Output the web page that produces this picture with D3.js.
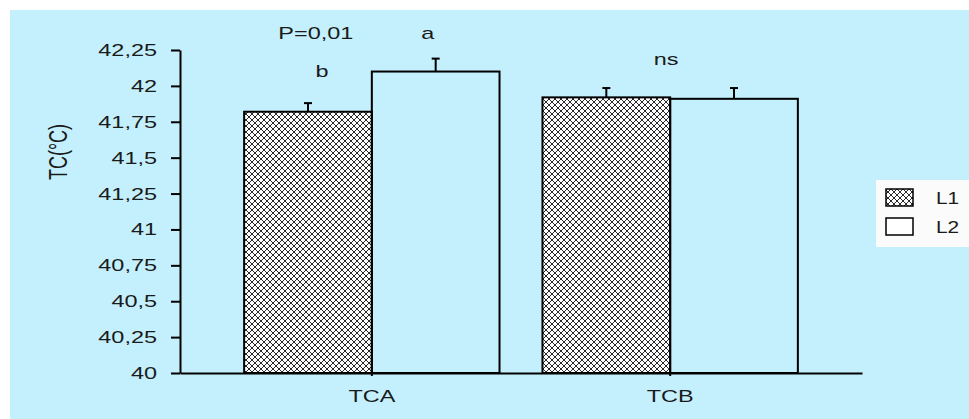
<!doctype html>
<html>

<head>
    <meta charset="utf-8">
    <title>TC chart</title>
    <style>
        body { margin: 0; background: #ffffff; }
        text { font-family: Arial, "Liberation Sans", sans-serif; fill: #1a1a1a; }
    </style>
</head>

<body>
    <script src="https://d3js.org/d3.v7.min.js"></script>
    <script>
        // data
        var categories = ["TCA", "TCB"];
        var seriesNames = ["L1", "L2"];
        var valuesL1 = [41.82, 41.92];
        var valuesL2 = [42.10, 41.91];
        var errorsL1 = [0.06, 0.065];
        var errorsL2 = [0.09, 0.075];
        var yTicks = [40, 40.25, 40.5, 40.75, 41, 41.25, 41.5, 41.75, 42, 42.25];
        var yTickLabels = ["40", "40,25", "40,5", "40,75", "41", "41,25", "41,5", "41,75", "42", "42,25"];
        // significance letters: [category, series, text]
        var letters = [["TCA", "L1", "b"], ["TCA", "L2", "a"]];
        var groupNotes = [["TCA", "P=0,01"], ["TCB", "ns"]];

        //Width and height
        var w = 969;
        var h = 419;
        var sx = 1.38; // the original is stretched sideways

        var svg = d3.select("body")
            .append("svg")
            .attr("width", w)
            .attr("height", h);

        // hatch pattern for L1
        var defs = svg.append("defs");
        var ps = 6;
        var pat = defs.append("pattern")
            .attr("id", "hatch")
            .attr("patternUnits", "userSpaceOnUse")
            .attr("width", ps)
            .attr("height", ps);
        pat.append("rect").attr("width", ps).attr("height", ps).attr("fill", "#ffffff");
        pat.append("path")
            .attr("d", "M0,0 L" + ps + "," + ps + " M" + ps + ",0 L0," + ps)
            .attr("stroke", "#111")
            .attr("stroke-width", 0.9);

        // background
        svg.append("rect")
            .attr("x", 10).attr("y", 10)
            .attr("width", w - 10).attr("height", h - 10)
            .attr("fill", "#c3f0fc");

        //scales
        var x0 = d3.scaleBand()
            .domain(categories)
            .range([180, 862])
            .paddingInner(0.144)
            .paddingOuter(0.215);

        var x1 = d3.scaleBand()
            .domain(seriesNames)
            .range([0, x0.bandwidth()]);

        var y = d3.scaleLinear()
            .domain([40, 42.25])
            .range([373, 50]);

        var fills = { L1: "url(#hatch)", L2: "none" };

        // bars
        var rows = [];
        categories.forEach(function (c, i) {
            rows.push({ cat: c, ser: "L1", v: valuesL1[i], e: errorsL1[i] });
            rows.push({ cat: c, ser: "L2", v: valuesL2[i], e: errorsL2[i] });
        });

        var bars = svg.append("g");
        bars.selectAll("rect")
            .data(rows)
            .enter()
            .append("rect")
            .attr("x", function (d) { return x0(d.cat) + x1(d.ser); })
            .attr("y", function (d) { return y(d.v); })
            .attr("width", x1.bandwidth())
            .attr("height", function (d) { return y(40) - y(d.v); })
            .attr("fill", function (d) { return fills[d.ser]; })
            .attr("stroke", "#000")
            .attr("stroke-width", 2);

        // error bars (upper only)
        var err = svg.append("g").attr("stroke", "#000").attr("stroke-width", 2);
        rows.forEach(function (d) {
            var cx = x0(d.cat) + x1(d.ser) + x1.bandwidth() / 2;
            err.append("line")
                .attr("x1", cx).attr("x2", cx)
                .attr("y1", y(d.v)).attr("y2", y(d.v + d.e));
            err.append("line")
                .attr("x1", cx - 4).attr("x2", cx + 4)
                .attr("y1", y(d.v + d.e)).attr("y2", y(d.v + d.e));
        });

        // y axis
        var yAxis = svg.append("g")
            .attr("transform", "translate(180,0)")
            .call(d3.axisLeft(y)
                .tickValues(yTicks)
                .tickFormat(function (d, i) { return yTickLabels[i]; })
                .tickSize(9)
                .tickSizeOuter(0));
        yAxis.select(".domain").attr("stroke-width", 2);
        yAxis.selectAll(".tick line").attr("stroke-width", 2);
        yAxis.selectAll(".tick text")
            .attr("x", -23 / sx)
            .attr("transform", "scale(" + sx + ",1)")
            .style("font-size", "17px")
            .style("font-family", "Arial, 'Liberation Sans', sans-serif")
            .attr("fill", "#1a1a1a");

        // x axis
        var xAxis = svg.append("g")
            .attr("transform", "translate(0,373)")
            .call(d3.axisBottom(x0).tickSize(3).tickSizeOuter(0));
        xAxis.select(".domain").attr("stroke-width", 2);
        xAxis.selectAll(".tick line").attr("stroke-width", 2);
        xAxis.selectAll(".tick text")
            .attr("y", 17)
            .attr("transform", "scale(" + sx + ",1)")
            .each(function () {
                var t = d3.select(this.parentNode).attr("transform");
                var tx = +t.match(/translate\(([-\d.]+)/)[1];
                d3.select(this.parentNode).attr("transform", "translate(" + tx + ",0)");
            })
            .style("font-size", "17px")
            .style("font-family", "Arial, 'Liberation Sans', sans-serif")
            .attr("fill", "#1a1a1a");

        // helper for stretched text
        function stretchedText(px, py, txt, size) {
            svg.append("text")
                .attr("transform", "translate(" + px + "," + py + ") scale(" + sx + ",1)")
                .attr("text-anchor", "middle")
                .style("font-size", size + "px")
                .text(txt);
        }

        // y label
        svg.append("text")
            .attr("transform", "translate(67,152) rotate(-90) scale(1," + sx + ")")
            .attr("text-anchor", "middle")
            .style("font-size", "18px")
            .text("TC(\u00B0C)");

        // annotations
        letters.forEach(function (l) {
            var cx = x0(l[0]) + x1(l[1]) + x1.bandwidth() / 2;
            var py = l[2] === "a" ? 39 : 77;
            stretchedText(l[1] === "L2" ? cx - 8 : cx + 14, py, l[2], 17);
        });
        groupNotes.forEach(function (n) {
            var cx = x0(n[0]) + x0.bandwidth() / 2;
            if (n[1] === "ns") stretchedText(cx - 4, 65, n[1], 17);
            else stretchedText(cx - 56, 39, n[1], 17);
        });

        // legend
        var legend = svg.append("g");
        legend.append("rect")
            .attr("x", 876).attr("y", 180)
            .attr("width", 93).attr("height", 67)
            .attr("fill", "#fbfbfb");
        seriesNames.forEach(function (s, i) {
            var ly = 189 + i * 29;
            legend.append("rect")
                .attr("x", 886).attr("y", ly)
                .attr("width", 27).attr("height", 17)
                .attr("fill", s === "L1" ? "url(#hatch)" : "#ffffff")
                .attr("stroke", "#000")
                .attr("stroke-width", 1.5);
            legend.append("text")
                .attr("transform", "translate(936," + (ly + 15) + ") scale(1.3,1)")
                .style("font-size", "16px")
                .text(s);
        });
    </script>
</body>

</html>
